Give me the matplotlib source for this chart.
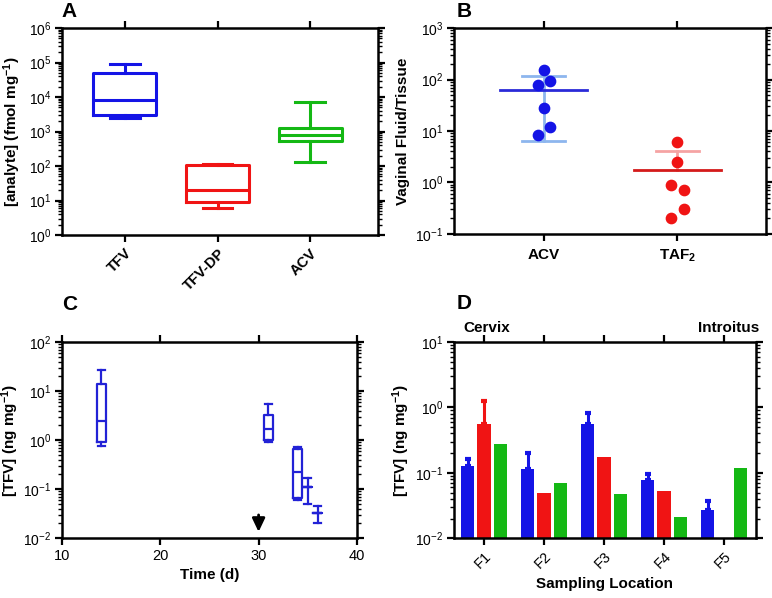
#coding: utf-8
# 4 panel figure: tissue levels (A), fluid/tissue ratio (B), time course (C), sampling location (D)

import numpy as np
import matplotlib
matplotlib.use('Agg')
import matplotlib.pyplot as plt

plt.rcParams['font.family'] = ['Liberation Sans', 'DejaVu Sans']
plt.rcParams['mathtext.fontset'] = 'custom'
plt.rcParams['mathtext.rm'] = 'Liberation Sans'
plt.rcParams['mathtext.it'] = 'Liberation Sans:italic'
plt.rcParams['mathtext.bf'] = 'Liberation Sans:bold'

blue = '#1414e6'
red = '#f01414'
green = '#14b814'

# A: box plot of analytes
a_labels = ['TFV', 'TFV-DP', 'ACV']
a_min = [2500, 6, 130]
a_q1 = [3000, 9, 550]
a_med = [8000, 20, 800]
a_q3 = [50000, 110, 1300]
a_max = [90000, 115, 7000]

# B: individual ratios
b_labels = ['ACV', r'TAF$\mathregular{_2}$']
b_acv = [150, 80, 95, 28, 12, 8.5]
b_taf = [6, 2.5, 0.9, 0.7, 0.3, 0.2]

# C: TFV over time
c_day = [14, 31, 34, 35, 36]
c_min = [0.75, 0.9, 0.06, 0.05, 0.02]
c_q1 = [0.9, 1.0, 0.065, 0.11, 0.033]
c_med = [2.4, 1.7, 0.22, 0.11, 0.033]
c_q3 = [14, 3.2, 0.65, 0.11, 0.033]
c_max = [27, 5.4, 0.72, 0.165, 0.045]
c_arrow_day = 30

# D: TFV by sampling location
d_sites = ['F1', 'F2', 'F3', 'F4', 'F5']
d_blue = [0.125, 0.115, 0.56, 0.077, 0.027]
d_blue_err = [0.04, 0.085, 0.26, 0.02, 0.01]
d_red = [0.55, 0.05, 0.175, 0.053, np.nan]
d_red_err = [0.7, 0, 0, 0, 0]
d_green = [0.28, 0.07, 0.048, 0.021, 0.12]

label_font = dict(fontsize=11, fontweight='bold')


def style(ax):
    for s in ax.spines.values():
        s.set_linewidth(1.8)
    ax.tick_params(which='major', direction='out', length=5, width=1.6,
                   labelsize=10, pad=2.5, top=True, right=True)
    ax.tick_params(which='minor', direction='out', length=3, width=1.0, right=True)


def box_stats(lo, q1, med, q3, hi):
    return [dict(whislo=a, q1=b, med=c, q3=d, whishi=e)
            for a, b, c, d, e in zip(lo, q1, med, q3, hi)]


fig = plt.figure(figsize=(7.72, 5.98), dpi=100)

#--- A
axA = fig.add_axes([0.0803, 0.607, 0.409, 0.346])
stats = box_stats(a_min, a_q1, a_med, a_q3, a_max)
for i, col in enumerate([blue, red, green]):
    props = dict(color=col, linewidth=2.2)
    axA.bxp([stats[i]], positions=[i], widths=0.68, capwidths=0.32, showfliers=False,
            boxprops=props, whiskerprops=props, capprops=props, medianprops=props)
axA.set_yscale('log')
axA.set_ylim(1, 1e6)
axA.set_xlim(-0.68, 2.73)
axA.set_xticks(range(len(a_labels)))
axA.set_xticklabels(a_labels, rotation=45, ha='right', rotation_mode='anchor',
                    fontweight='bold')
axA.set_ylabel(r'[analyte] (fmol mg$^{\mathregular{-1}}$)', **label_font)
axA.yaxis.set_label_coords(-0.125, 0.5)
style(axA)
axA.tick_params(axis='x', labelsize=10.5, pad=3)

#--- B
axB = fig.add_axes([0.588, 0.609, 0.404, 0.344])
jitter = [[0, -0.045, 0.045, 0, 0.045, -0.045], [0, 0, -0.045, 0.045, 0.045, -0.045]]
b_cols = [(blue, '#2a2ad8', '#8db6ee'), (red, '#d41a1a', '#f5a3a3')]
for i, vals in enumerate([b_acv, b_taf]):
    vals = np.array(vals)
    dot, mcol, ecol = b_cols[i]
    m = vals.mean()
    sd = vals.std(ddof=1)
    lo = m - sd
    if lo > 0:
        axB.plot([i, i], [lo, m + sd], color=ecol, lw=2, zorder=1)
        axB.plot([i - 0.16, i + 0.16], [lo, lo], color=ecol, lw=2, zorder=1)
    else:
        axB.plot([i, i], [m, m + sd], color=ecol, lw=2, zorder=1)
    axB.plot([i - 0.16, i + 0.16], [m + sd, m + sd], color=ecol, lw=2, zorder=1)
    axB.plot([i - 0.326, i + 0.326], [m, m], color=mcol, lw=2, zorder=2)
    axB.scatter(i + np.array(jitter[i]), vals, s=55, color=dot, zorder=3)
axB.set_yscale('log')
axB.set_ylim(0.1, 1000)
axB.set_xlim(-0.67, 1.66)
axB.set_xticks([0, 1])
axB.set_xticklabels(b_labels, fontweight='bold')
axB.set_ylabel('Vaginal Fluid/Tissue', **label_font)
axB.yaxis.set_label_coords(-0.14, 0.5)
style(axB)
axB.tick_params(axis='x', labelsize=11, pad=5)

#--- C
axC = fig.add_axes([0.0803, 0.100, 0.382, 0.328])
props = dict(color='#2222d6', linewidth=1.6)
axC.bxp(box_stats(c_min, c_q1, c_med, c_q3, c_max), positions=c_day, widths=0.9,
        capwidths=0.7, showfliers=False, boxprops=props, whiskerprops=props,
        capprops=props, medianprops=props, manage_ticks=False)
axC.annotate('', xy=(c_arrow_day, 0.0118), xytext=(c_arrow_day, 0.034),
             arrowprops=dict(arrowstyle='-|>,head_length=0.8,head_width=0.38',
                             color='k', lw=2))
axC.set_yscale('log')
axC.set_ylim(0.01, 100)
axC.set_xlim(10, 40)
axC.set_xticks([10, 20, 30, 40])
axC.set_xlabel('Time (d)', **label_font)
axC.set_ylabel(r'[TFV] (ng mg$^{\mathregular{-1}}$)', **label_font)
axC.yaxis.set_label_coords(-0.14, 0.5)
style(axC)
axC.tick_params(axis='x', labelsize=10.5)

#--- D
axD = fig.add_axes([0.588, 0.100, 0.391, 0.328])
x = np.arange(len(d_sites))
w = 0.22
for off, vals, errs, col in [(-0.27, d_blue, d_blue_err, blue), (0, d_red, d_red_err, red),
                             (0.27, d_green, None, green)]:
    axD.bar(x + off, vals, width=w, color=col, zorder=2)
    if errs is not None:
        errs = np.array(errs)
        keep = errs > 0
        axD.errorbar((x + off)[keep], np.array(vals)[keep],
                     yerr=[np.zeros(keep.sum()), errs[keep]], fmt='none', ecolor=col,
                     elinewidth=2.2, capsize=2.5, capthick=3, zorder=1)
axD.set_yscale('log')
axD.set_ylim(0.01, 10)
axD.set_xlim(-0.5, 4.53)
axD.set_xticks(x)
axD.set_xticklabels(d_sites, rotation=45, ha='right', rotation_mode='anchor')
axD.set_xlabel('Sampling Location', **label_font)
axD.set_ylabel(r'[TFV] (ng mg$^{\mathregular{-1}}$)', **label_font)
axD.yaxis.set_label_coords(-0.14, 0.5)
style(axD)
axD.tick_params(axis='x', labelsize=10.5, pad=3)
fig.text(0.5997, 0.445, 'Cervix', fontsize=11, fontweight='bold')
fig.text(0.983, 0.445, 'Introitus', fontsize=11, fontweight='bold', ha='right')

# panel letters
for lx, ly, letter in [(0.080, 0.9716, 'A'), (0.591, 0.9716, 'B'),
                       (0.080, 0.4816, 'C'), (0.591, 0.4833, 'D')]:
    fig.text(lx, ly, letter, fontsize=15, fontweight='bold')

fig.savefig('out.png', dpi=100)
